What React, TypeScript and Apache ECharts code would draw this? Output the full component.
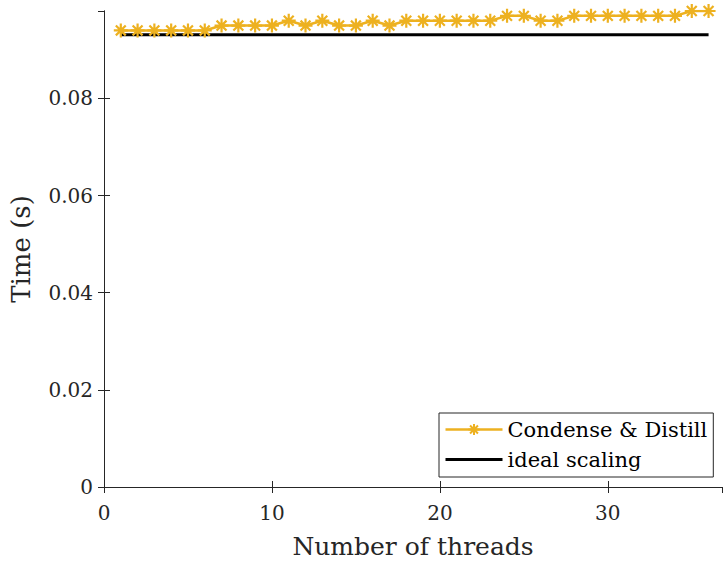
import React, { useEffect, useRef } from "react";
import * as echarts from "echarts";

const threads = [1, 2, 3, 4, 5, 6, 7, 8, 9, 10, 11, 12, 13, 14, 15, 16, 17, 18, 19, 20, 21, 22, 23, 24, 25, 26, 27, 28, 29, 30, 31, 32, 33, 34, 35, 36];
const condenseTimes = [
  0.094, 0.094, 0.094, 0.094, 0.094, 0.094, 0.095, 0.095, 0.095, 0.095,
  0.096, 0.095, 0.096, 0.095, 0.095, 0.096, 0.095, 0.096, 0.096, 0.096,
  0.096, 0.096, 0.096, 0.097, 0.097, 0.096, 0.096, 0.097, 0.097, 0.097,
  0.097, 0.097, 0.097, 0.097, 0.098, 0.098,
];
const idealX = [1, 36];
const idealY = [0.0931, 0.0931];
const seriesNames = ["Condense & Distill", "ideal scaling"];

const FONT = "DejaVu Serif";
const INK = "#262626";
const ORANGE = "#EDB120";
const STAR = "path://M0,-10L0,10M-10,0L10,0M-7.07,-7.07L7.07,7.07M-7.07,7.07L7.07,-7.07";

export default function App() {
  const ref = useRef<HTMLDivElement>(null);
  useEffect(() => {
    const chart = echarts.init(ref.current!, null, { renderer: "svg" });
    const axisCommon = {
      axisLine: { show: true, lineStyle: { color: INK, width: 1 } },
      axisTick: { show: true, inside: true, length: 6, lineStyle: { color: INK } },
      splitLine: { show: false },
    };
    chart.setOption({
      animation: false,
      backgroundColor: "#fff",
      grid: { left: 104, right: 4, top: 11, bottom: 74, containLabel: false },
      xAxis: [
        {
          type: "value",
          min: 0,
          max: 36.8,
          interval: 10,
          position: "bottom",
          ...axisCommon,
          axisLabel: {
            color: INK, fontFamily: FONT, fontSize: 20, margin: 16, showMaxLabel: false,
          },
          name: "Number of threads",
          nameLocation: "middle",
          nameGap: 47,
          nameTextStyle: { color: INK, fontFamily: FONT, fontSize: 25 },
        },
        {
          type: "value",
          min: 0,
          max: 36.8,
          interval: 10,
          position: "top",
          ...axisCommon,
          axisLabel: { show: false },
        },
      ],
      yAxis: [
        {
          type: "value",
          min: 0,
          max: 0.098,
          interval: 0.02,
          position: "left",
          ...axisCommon,
          axisLabel: {
            color: INK, fontFamily: FONT, fontSize: 20, margin: 11, showMaxLabel: false,
            formatter: (v: number) => (v === 0 ? "0" : v.toFixed(2)),
          },
          name: "Time (s)",
          nameLocation: "middle",
          nameGap: 70,
          nameTextStyle: { color: INK, fontFamily: FONT, fontSize: 26 },
        },
        {
          type: "value",
          min: 0,
          max: 0.098,
          interval: 0.02,
          position: "right",
          ...axisCommon,
          axisLabel: { show: false },
        },
      ],
      legend: {
        left: 439,
        top: 413,
        orient: "vertical",
        backgroundColor: "#fff",
        borderColor: INK,
        borderWidth: 1,
        borderRadius: 0,
        padding: [6, 6, 7, 5],
        itemGap: 9,
        itemWidth: 57,
        itemHeight: 14,
        textStyle: { color: "#000", fontFamily: FONT, fontSize: 21 },
        data: [
          { name: seriesNames[0], lineStyle: { width: 2.5, color: ORANGE } },
          {
            name: seriesNames[1],
            lineStyle: { width: 3, color: "#000" },
            itemStyle: { opacity: 0 },
          },
        ],
      },
      series: [
        {
          name: seriesNames[1],
          type: "line",
          data: idealX.map((x, i) => [x, idealY[i]]),
          symbol: "none",
          lineStyle: { color: "#000", width: 3 },
          itemStyle: { color: "#000" },
          z: 2,
        },
        {
          name: seriesNames[0],
          type: "line",
          data: threads.map((x, i) => [x, condenseTimes[i]]),
          symbol: STAR,
          symbolSize: 14,
          showAllSymbol: true,
          lineStyle: { color: ORANGE, width: 2.5 },
          itemStyle: { color: ORANGE, borderColor: ORANGE, borderWidth: 2.2 },
          z: 3,
        },
      ],
    });
    return () => chart.dispose();
  }, []);
  return <div ref={ref} style={{ width: 726, height: 564, position: "absolute", left: 0, top: 0 }} />;
}
